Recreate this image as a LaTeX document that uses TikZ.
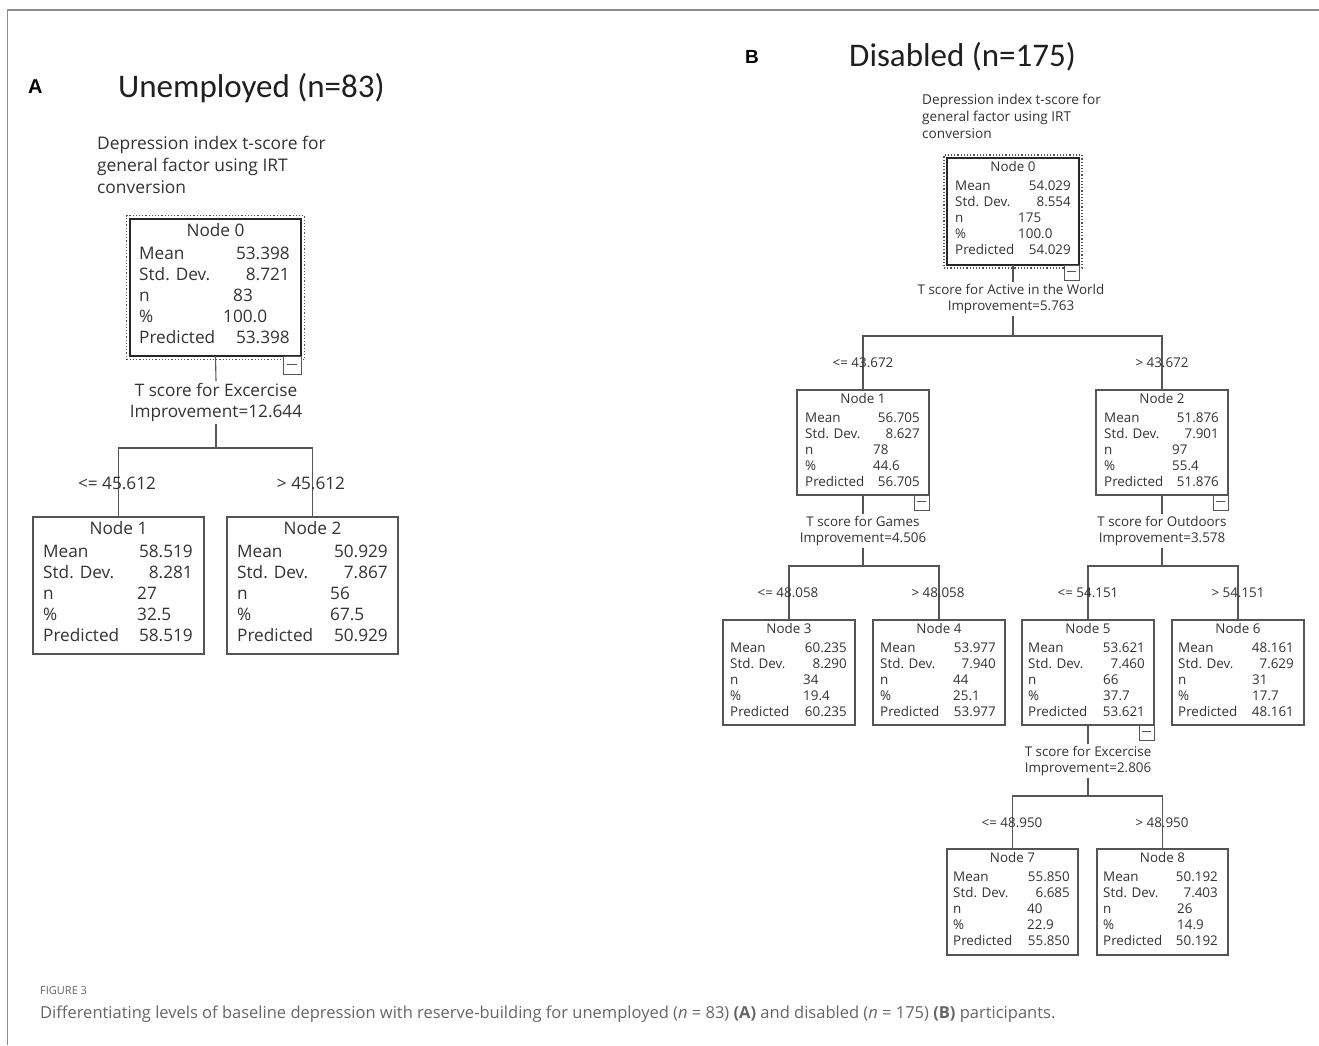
\documentclass[tikz,border=0pt]{standalone}
\usepackage{fontspec}
\setmainfont{Open Sans}
\newfontfamily\titlefont{Carlito}
\newfontfamily\letterfont{Liberation Sans}
\newfontfamily\capfont{Open Sans}
\definecolor{txt}{HTML}{333333}
\definecolor{ln}{HTML}{555555}
\definecolor{framec}{HTML}{8C8C8C}
\definecolor{capc}{HTML}{666666}
\newcommand\fontA{\fontsize{17.2}{21}\selectfont}
\newcommand\fontB{\fontsize{13.4}{16.2}\selectfont}
\newcommand\tf{\fontA}
\newcommand\setgeom[4]{\def\tT{#1}\def\tM{#2}\def\tS{#3}\def\tf{#4}}
\newcommand\setvals[6]{\def\vNum{#1}\def\vMean{#2}\def\vSD{#3}\def\vN{#4}\def\vPct{#5}\def\vPred{#6}}
\newcommand\tnode[9]{%
 \node[tbox, minimum width={(#4-#2)*1pt}, minimum height={(#5-#3)*1pt}, anchor=north west] (#1) at (#2,#3) {};
 \node[tx, anchor=mid] (#1-t) at ({(#2+#4)/2},{#3+\tT}) {Node \vNum};
 \node[tx, anchor=mid west] (#1-l1) at (#6,{#3+\tM}) {Mean};
 \node[tx, anchor=mid west] (#1-l2) at (#6,{#3+\tM+\tS}) {Std. Dev.};
 \node[tx, anchor=mid west] (#1-l3) at (#6,{#3+\tM+2*\tS}) {n};
 \node[tx, anchor=mid west] (#1-l4) at (#6,{#3+\tM+3*\tS}) {\%};
 \node[tx, anchor=mid west] (#1-l5) at (#6,{#3+\tM+4*\tS}) {Predicted};
 \node[tx, anchor=mid east] (#1-v1) at (#7,{#3+\tM}) {\vMean};
 \node[tx, anchor=mid east] (#1-v2) at (#7,{#3+\tM+\tS}) {\vSD};
 \node[tx, anchor=mid west] (#1-v3) at (#8,{#3+\tM+2*\tS}) {\vN};
 \node[tx, anchor=mid west] (#1-v4) at (#9,{#3+\tM+3*\tS}) {\vPct};
 \node[tx, anchor=mid east] (#1-v5) at (#7,{#3+\tM+4*\tS}) {\vPred};
}
\newcommand\minbox[4]{% name, parent, size, shorten
 \node[mbox, minimum size=#3pt, anchor=north east] (#1) at (#2.south east) {};
 \draw[mline, shorten <=#4pt, shorten >=#4pt] ([yshift=1pt]#1.west) -- ([yshift=1pt]#1.east);
}
\begin{document}
\begin{tikzpicture}[x=1pt,y=-1pt,
  tbox/.style={draw=ln, line width=1.1pt, inner sep=0pt, outer sep=0pt, rectangle},
  rootline/.style={draw=black!85, line width=2pt},
  dotbox/.style={draw=ln, dotted, line width=1.2pt, inner sep=0pt, outer sep=0pt, rectangle},
  tx/.style={inner sep=0pt, text=txt, font=\tf},
  split/.style={align=center, text=txt, font=\tf, inner sep=2pt},
  cond/.style={text=txt, font=\tf, inner sep=0pt},
  dep/.style={align=left, text=txt, inner sep=0pt, anchor=west},
  edge/.style={draw=ln, line width=1.1pt},
  mbox/.style={draw=ln, fill=white, line width=1pt, inner sep=0pt, outer sep=0pt, rectangle},
  mline/.style={draw=ln, line width=1pt},
  title/.style={inner sep=0pt, anchor=base west, text=black!88, font=\titlefont},
  letter/.style={inner sep=0pt, anchor=base west, text=black}
]
\useasboundingbox (0,0) rectangle (1319,1045);
\fill[white] (0,0) rectangle (1319,1045);
\draw[framec, line width=1.5pt] (7.5,1045) -- (7.5,10) -- (1319,10);

% ---------------- Panel A ----------------
\node[letter, font=\letterfont\bfseries\fontsize{20}{22}\selectfont] (lA) at (28,93) {A};
\node[title, font=\titlefont\fontsize{33}{36}\selectfont] (tA) at (118,97) {Unemployed (n=83)};
\node[dep, font=\fontsize{17.4}{22}\selectfont] (dA) at (97,165) {Depression index t-score for\\general factor using IRT\\conversion};

\setgeom{15}{38}{21}{\fontA}
\node[dotbox, minimum width=178pt, minimum height=144pt, anchor=north west] (a0d) at (126.5,215.5) {};
\setvals{0}{53.398}{8.721}{83}{100.0}{53.398}
\tnode{a0}{130}{219}{301}{356}{139}{290}{233}{223}
\draw[rootline] (a0.north west) rectangle (a0.south east);
\minbox{a0m}{a0}{18}{4}
\setvals{1}{58.519}{8.281}{27}{32.5}{58.519}
\tnode{a1}{33}{517}{204}{654}{43}{193}{137}{137}
\setvals{2}{50.929}{7.867}{56}{67.5}{50.929}
\tnode{a2}{227}{517}{398}{654}{237}{388}{330}{330}

\node[split, font=\fontsize{17.2}{21}\selectfont] (as0) at (216,402.5) {T score for Excercise\\Improvement=12.644};
\coordinate (ab0) at (216,448);
\draw[edge] (a0.south) -- (as0.north);
\draw[edge] (as0.south) -- (ab0);
\draw[edge] (a1.north) |- (ab0) -| (a2.north);
\node[cond] (ac1) at (117,483) {<= 45.612};
\node[cond] (ac2) at (311,483) {> 45.612};

% ---------------- Panel B ----------------
\node[letter, font=\letterfont\bfseries\fontsize{19}{21}\selectfont] (lB) at (745,63) {B};
\node[title, font=\titlefont\fontsize{33}{36}\selectfont] (tB) at (849,66) {Disabled (n=175)};
\node[dep, font=\fontsize{13.6}{17}\selectfont] (dB) at (922,116) {Depression index t-score for\\general factor using IRT\\conversion};

\setgeom{10.5}{29.5}{16.2}{\fontB}
\node[dotbox, minimum width=138pt, minimum height=113pt, anchor=north west] (b0d) at (944,155) {};
\setvals{0}{54.029}{8.554}{175}{100.0}{54.029}
\tnode{b0}{947}{158}{1079}{265}{955}{1071}{1018}{1018}
\draw[rootline] (b0.north west) rectangle (b0.south east);
\minbox{b0m}{b0}{15}{3.2}

\setvals{1}{56.705}{8.627}{78}{44.6}{56.705}
\tnode{b1}{797}{390}{929}{495}{805}{920}{873}{873}
\minbox{b1m}{b1}{15}{3.2}
\setvals{2}{51.876}{7.901}{97}{55.4}{51.876}
\tnode{b2}{1096}{390}{1228}{495}{1104}{1219}{1172}{1172}
\minbox{b2m}{b2}{15}{3.2}

\setvals{3}{60.235}{8.290}{34}{19.4}{60.235}
\tnode{b3}{723}{620}{855}{725}{730}{847}{803}{803}
\setvals{4}{53.977}{7.940}{44}{25.1}{53.977}
\tnode{b4}{873}{620}{1005}{725}{880}{996}{953}{953}
\setvals{5}{53.621}{7.460}{66}{37.7}{53.621}
\tnode{b5}{1022}{620}{1154}{725}{1028}{1145}{1103}{1103}
\minbox{b5m}{b5}{15}{3.2}
\setvals{6}{48.161}{7.629}{31}{17.7}{48.161}
\tnode{b6}{1172}{620}{1304}{725}{1178}{1294}{1252}{1252}

\setvals{7}{55.850}{6.685}{40}{22.9}{55.850}
\tnode{b7}{947}{849}{1078}{955}{953}{1070}{1027}{1027}
\setvals{8}{50.192}{7.403}{26}{14.9}{50.192}
\tnode{b8}{1097}{849}{1228}{955}{1103}{1218}{1177}{1177}

% split labels
\node[split, font=\fontsize{13.4}{16}\selectfont] (bs0) at (1011,299) {T score for Active in the World\\Improvement=5.763};
\node[split, font=\fontsize{13.4}{16}\selectfont] (bs1) at (863,531) {T score for Games\\Improvement=4.506};
\node[split, font=\fontsize{13.4}{16}\selectfont] (bs2) at (1162,531) {T score for Outdoors\\Improvement=3.578};
\node[split, font=\fontsize{13.4}{16}\selectfont] (bs5) at (1088,761) {T score for Excercise\\Improvement=2.806};

\coordinate (bb0) at (1013,336);
\coordinate (bb1) at (863,566);
\coordinate (bb2) at (1162,566);
\coordinate (bb5) at (1088,796);

\draw[edge] (b0.south) -- (b0.south |- bs0.north);
\draw[edge] (b0.south |- bs0.south) -- (bb0);
\draw[edge] (b1.north) |- (bb0) -| (b2.north);

\draw[edge] (b1.south) -- (bs1.north);
\draw[edge] (bs1.south) -- (bb1);
\draw[edge] (b3.north) |- (bb1) -| (b4.north);

\draw[edge] (b2.south) -- (bs2.north);
\draw[edge] (bs2.south) -- (bb2);
\draw[edge] (b5.north) |- (bb2) -| (b6.north);

\draw[edge] (b5.south) -- (bs5.north);
\draw[edge] (bs5.south) -- (bb5);
\draw[edge] (b7.north) |- (bb5) -| (b8.north);

% condition labels
\node[cond, font=\fontB] (bc1) at (863,363) {<= 43.672};
\node[cond, font=\fontB] (bc2) at (1162,363) {> 43.672};
\node[cond, font=\fontB] (bc3) at (788,593) {<= 48.058};
\node[cond, font=\fontB] (bc4) at (938,593) {> 48.058};
\node[cond, font=\fontB] (bc5) at (1088,593) {<= 54.151};
\node[cond, font=\fontB] (bc6) at (1238,593) {> 54.151};
\node[cond, font=\fontB] (bc7) at (1012,823) {<= 48.950};
\node[cond, font=\fontB] (bc8) at (1162,823) {> 48.950};

% ---------------- Caption ----------------
\node[inner sep=0pt, anchor=base west, text=capc, font=\capfont\fontsize{11}{13}\selectfont] (figno) at (40,994) {FIGURE 3};
\node[inner sep=0pt, anchor=base west, text=capc, font=\capfont\fontsize{16.5}{19}\selectfont] (capt) at (40,1018) {Differentiating levels of baseline depression with reserve-building for unemployed (\textit{n} = 83) \textbf{(A)} and disabled (\textit{n} = 175) \textbf{(B)} participants.};
\end{tikzpicture}
\end{document}
